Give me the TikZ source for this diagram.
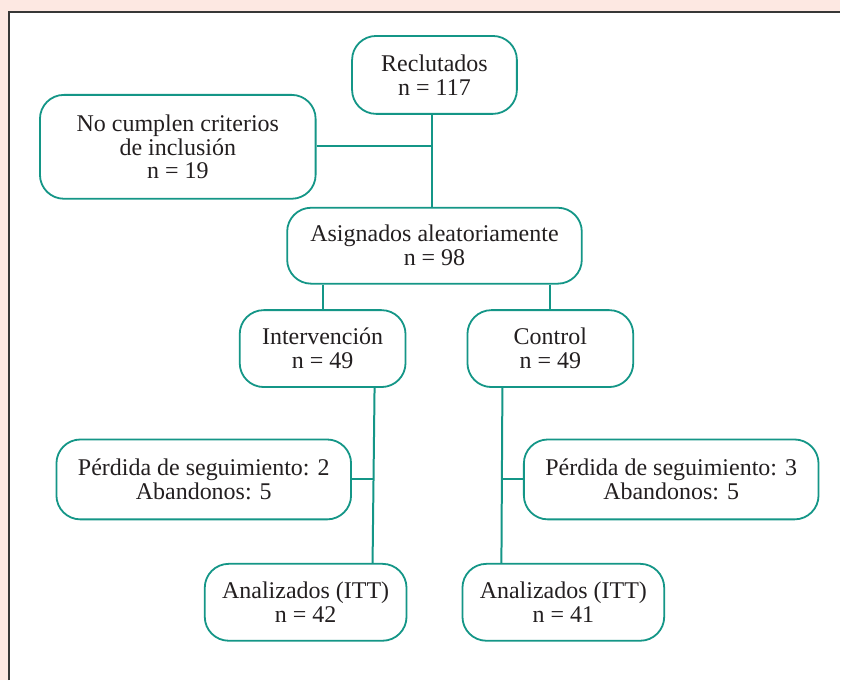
\documentclass[tikz,border=0pt]{standalone}
\usepackage{fontspec}
\setmainfont{Liberation Serif}
\usetikzlibrary{positioning}
\definecolor{verde}{RGB}{20,150,135}
\definecolor{rosa}{RGB}{253,232,226}
\definecolor{marco}{RGB}{55,55,55}
\definecolor{texto}{RGB}{35,31,32}

\begin{document}
\begin{tikzpicture}[x = 1pt, y = -1pt,
    caja/.style = { draw = verde, line width = 1.8pt, rounded corners = 24pt,
                    align = center, text = texto, inner sep = 0pt,
                    font = \fontsize{24}{24}\selectfont },
    linea/.style = { draw = verde, line width = 2pt }]
    % fondo y marco
    \fill[rosa] (0,0) rectangle (841,681);
    \fill[white] (9,12) rectangle (841,681);
    \draw[marco, line width = 2pt] (9,681) -- (9,12) -- (841,12);

    % cajas
    \node[caja, minimum width = 165, minimum height = 78] (recl) at (435,75) { Reclutados \\ n = 117 };
    \node[caja, minimum width = 276, minimum height = 104] (nocu) at (178,147) { No cumplen criterios \\ de inclusión \\ n = 19 };
    \node[caja, minimum width = 295, minimum height = 76] (asig) at (435,246) { Asignados aleatoriamente \\ n = 98 };
    \node[caja, minimum width = 166, minimum height = 77] (intv) at (323,349) { Intervención \\ n = 49 };
    \node[caja, minimum width = 166, minimum height = 77] (ctrl) at (551,349) { Control \\ n = 49 };
    \node[caja, minimum width = 295, minimum height = 80] (perd1) at (204,480) { Pérdida de seguimiento: 2 \\ Abandonos: 5 };
    \node[caja, minimum width = 295, minimum height = 80] (perd2) at (672,480) { Pérdida de seguimiento: 3 \\ Abandonos: 5 };
    \node[caja, minimum width = 202, minimum height = 77] (anai) at (306,603) { Analizados (ITT) \\ n = 42 };
    \node[caja, minimum width = 202, minimum height = 77] (anac) at (564,603) { Analizados (ITT) \\ n = 41 };

    % puntos de union
    \coordinate (eje) at (433,146);
    \coordinate (izq) at (323,0);
    \coordinate (der) at (551,0);
    \coordinate (ia) at (375,0);
    \coordinate (ib) at (373,0);
    \coordinate (im) at (374,480);
    \coordinate (ca) at (503,0);
    \coordinate (cb) at (502,0);
    \coordinate (cm) at (502.5,480);

    % conectores
    \draw[linea] (recl.south -| eje) -- (asig.north -| eje);
    \draw[linea] (nocu.east |- eje) -- (eje);
    \draw[linea] (asig.south -| izq) -- (intv.north -| izq);
    \draw[linea] (asig.south -| der) -- (ctrl.north -| der);
    \draw[linea] (intv.south -| ia) -- (anai.north -| ib);
    \draw[linea] (perd1.east) -- (im);
    \draw[linea] (ctrl.south -| ca) -- (anac.north -| cb);
    \draw[linea] (cm) -- (perd2.west);
\end{tikzpicture}
\end{document}
